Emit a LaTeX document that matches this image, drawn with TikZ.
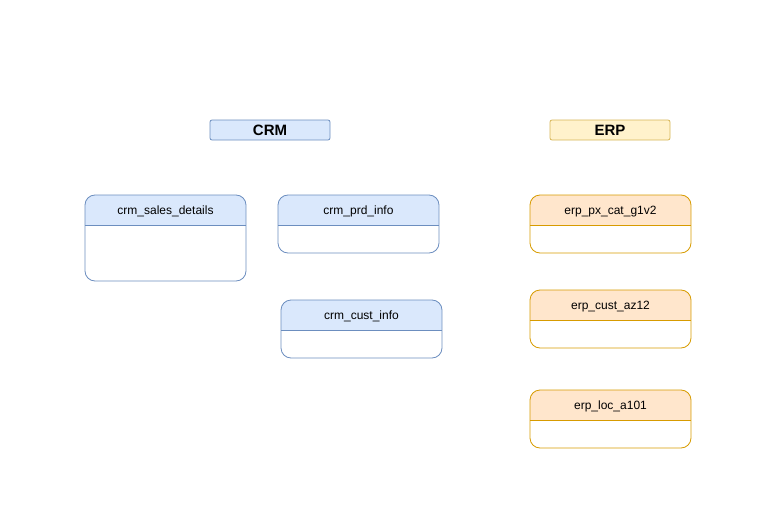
\documentclass[tikz,border=0pt]{standalone}
\usepackage{fontspec}
\setmainfont{Liberation Sans}
\usepackage{tikz}
\definecolor{crmfill}{HTML}{DAE8FC}
\definecolor{crmline}{HTML}{6C8EBF}
\definecolor{erpfill}{HTML}{FFE6CC}
\definecolor{erpline}{HTML}{D79B00}
\definecolor{grpfill}{HTML}{FFF2CC}
\definecolor{grpline}{HTML}{D6B656}

\tikzset{
    grouptitle/.style={draw, rectangle, rounded corners=2pt, line width=0.8pt,
        minimum width=120pt, minimum height=20pt, inner sep=0pt,
        font=\fontsize{15}{17}\selectfont\bfseries},
    tbltext/.style={inner sep=0pt, anchor=base, font=\fontsize{12}{14}\selectfont}
}

% table box: name, x, y, width, height, title, colour prefix
\newcommand{\dbtable}[7]{%
    \begin{scope}
        \clip[rounded corners=10pt] (#2,#3) rectangle ++(#4,#5);
        \fill[#7fill] (#2,#3) rectangle ++(#4,30);
    \end{scope}
    \draw[#7line, line width=0.8pt, rounded corners=10pt] (#2,#3) rectangle ++(#4,#5);
    \draw[#7line, line width=0.8pt] (#2,#3+30) -- ++(#4,0);
    \node[tbltext] (#1) at (#2+#4/2,#3+19) {#6};
}

\begin{document}
\begin{tikzpicture}[x=1pt, y=-1pt]
    \useasboundingbox (0,0) rectangle (782,511);

    % group titles
    \node[grouptitle, fill=crmfill, draw=crmline] (crm) at (270,130) {CRM};
    \node[grouptitle, fill=grpfill, draw=grpline] (erp) at (610,130) {ERP};

    % CRM tables
    \dbtable{salesdetails}{85}{195}{161}{86}{crm\_sales\_details}{crm}
    \dbtable{prdinfo}{278}{195}{161}{58}{crm\_prd\_info}{crm}
    \dbtable{custinfo}{281}{300}{161}{58}{crm\_cust\_info}{crm}

    % ERP tables
    \dbtable{pxcat}{530}{195}{161}{58}{erp\_px\_cat\_g1v2}{erp}
    \dbtable{custaz}{530}{290}{161}{58}{erp\_cust\_az12}{erp}
    \dbtable{loca}{530}{390}{161}{58}{erp\_loc\_a101}{erp}
\end{tikzpicture}
\end{document}
